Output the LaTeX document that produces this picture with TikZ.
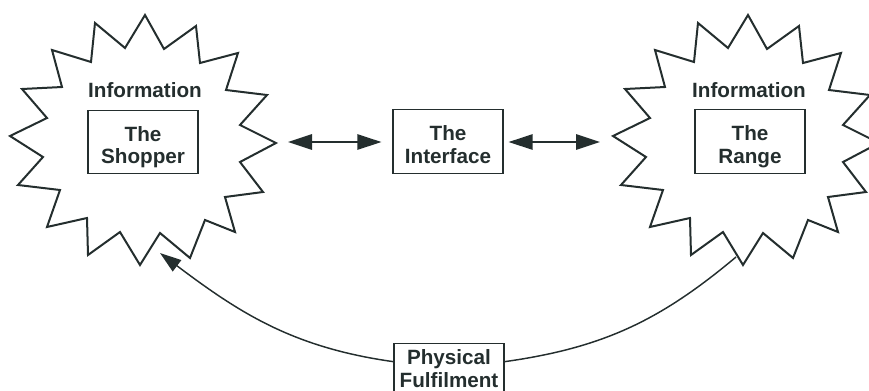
\documentclass[tikz,border=0pt]{standalone}
\usepackage{fontspec}
\setmainfont{Liberation Sans}
\usetikzlibrary{arrows.meta}
\definecolor{ink}{RGB}{36,46,46}
% two centred lines with a fixed height and depth, so every box sets them alike
\newcommand{\paneltext}[2]{\rule{0pt}{19.5pt}#1\\#2\rule[-4pt]{0pt}{4pt}}
\begin{document}
\begin{tikzpicture}[x=0.75pt,y=-0.75pt,
  every node/.style={font=\bfseries\fontsize{15.5}{17}\selectfont, text=ink},
  burst/.style={draw=ink, line width=1.5pt, line join=miter},
  heading/.style={anchor=base, inner sep=0pt},
  panel/.style={draw=ink, line width=0.9pt, minimum width=82.5pt,
    minimum height=47.5pt, align=center, inner sep=0pt},
  openpanel/.style={draw=ink, line width=0.9pt, minimum width=82.5pt,
    align=center, inner xsep=0pt, inner ysep=4.5pt, anchor=north},
  link/.style={draw=ink, line width=1.4pt,
    {Triangle[length=18pt,width=11.5pt]}-{Triangle[length=18pt,width=11.5pt]}},
  flow/.style={draw=ink, line width=1.1pt, -{Triangle[length=16pt,width=10.5pt]}},
  plain/.style={draw=ink, line width=1.1pt}]
\useasboundingbox (0,0) rectangle (869,390);
\clip (0,0) rectangle (869,390);

% the two information bursts
\foreach \dx in {0,603}{
  \draw[burst, shift={(\dx,0)}]
    (145,15) -- (164,49) -- (196,26) -- (200,63) -- (238,53) -- (226,90)
    -- (267,95) -- (240,125) -- (276,143) -- (240,162) -- (263,192)
    -- (225,197) -- (235,232) -- (205,220) -- (190,258) -- (160,233)
    -- (140,265) -- (120,232) -- (88,255) -- (87,218) -- (47,227)
    -- (60,190) -- (18,185) -- (43,157) -- (10,136) -- (47,118)
    -- (22,89) -- (62,87) -- (52,50) -- (91,62) -- (95,23) -- (125,48)
    -- cycle;
}

% labels and boxes
\node[heading] (infoL) at (145,97) {Information};
\node[heading] (infoR) at (749,97) {Information};
\node[panel] (shopper) at (143,142) {\paneltext{The}{Shopper}};
\node[panel] (iface) at (448,141.5) {\paneltext{The}{Interface}};
\node[panel] (range) at (750,141.5) {\paneltext{The}{Range}};
\node[openpanel] (phys) at (449,343) {Physical\\Fulfilment};

% connector ends on the burst outlines
\coordinate (shopperEdge) at (288,142);
\coordinate (rangeEdge) at (600,142);
\coordinate (shopperFoot) at (160,253);
\coordinate (rangeFoot) at (736,257);

% information links
\draw[link, shorten >=8.25pt] (shopperEdge) -- (iface.west |- shopperEdge);
\draw[link, shorten <=3.75pt] (iface.east |- rangeEdge) -- (rangeEdge);

% physical fulfilment loop
\draw[flow] ([yshift=-14pt]phys.north west) to[out=172, in=-37] (shopperFoot);
\draw[plain] ([yshift=-14pt]phys.north east) to[out=8, in=-140] (rangeFoot);
\end{tikzpicture}
\end{document}
